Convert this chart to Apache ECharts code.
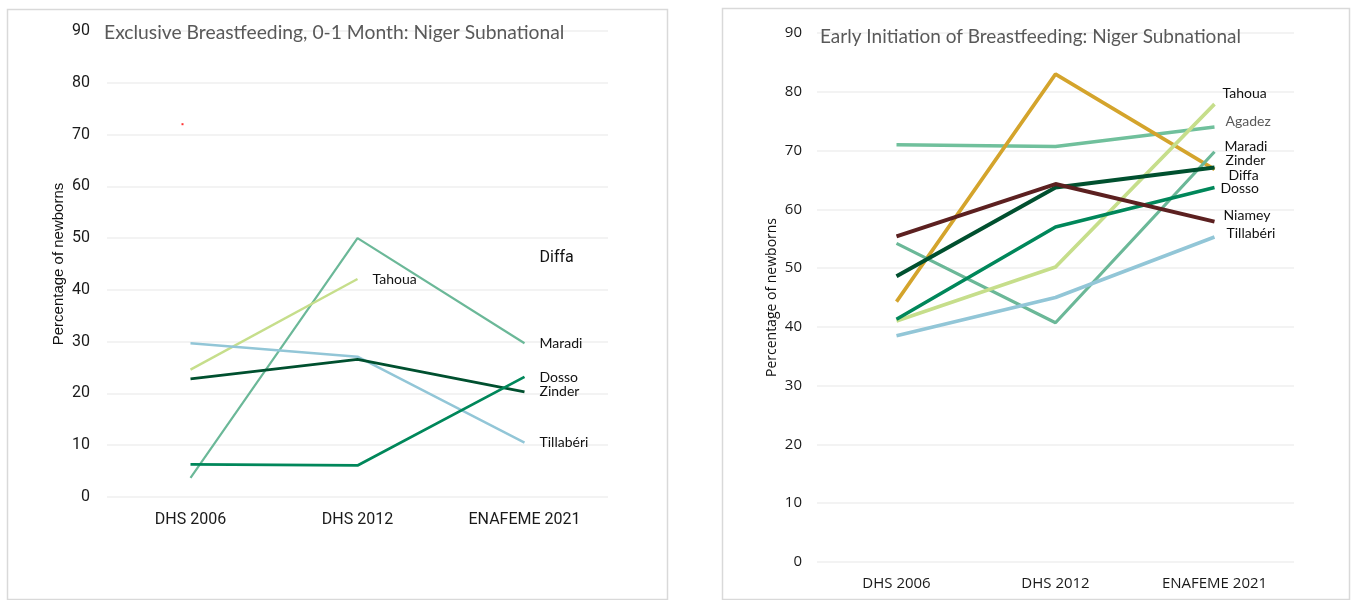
<!DOCTYPE html>
<html>
<head>
<meta charset="utf-8">
<script src="https://cdn.jsdelivr.net/npm/echarts@6/dist/echarts.min.js"></script>
<style>
  html, body { margin: 0; padding: 0; background: #ffffff; }
  #chart { width: 1352px; height: 600px; }
</style>
</head>
<body>
<div id="chart"></div>
<script>
// Survey rounds shared by both panels
const surveys = ['DHS 2006', 'DHS 2012', 'ENAFEME 2021'];

// Value axis range (percent)
const axisMin = 0;
const axisMax = 90;
const axisStep = 10;

// Exclusive breastfeeding, 0-1 month (% of newborns)
const ebfMaradi    = [3.7, 50.0, 29.7];
const ebfTahoua    = [24.6, 42.1, null];
const ebfTillaberi = [29.7, 27.1, 10.5];
const ebfZinder    = [22.8, 26.6, 20.3];
const ebfDosso     = [6.3, 6.1, 23.2];
const ebfDiffa     = [null, null, 46.2];
const ebfStrayDot  = [72, null, null];

// Early initiation of breastfeeding (% of newborns)
const eibAgadez    = [71.0, 70.7, 74.0];
const eibDiffa     = [44.3, 83.0, 66.8];
const eibMaradi    = [54.2, 40.7, 69.8];
const eibZinder    = [48.6, 63.7, 67.1];
const eibDosso     = [41.3, 57.0, 63.7];
const eibNiamey    = [55.4, 64.3, 57.9];
const eibTillaberi = [38.5, 45.0, 55.3];
const eibTahoua    = [41.0, 50.2, 77.9];

const COLORS = {
  maradi: '#6bb898',
  agadez: '#70c09c',
  tahoua: '#c6de8b',
  tillaberi: '#92c6d7',
  zinder: '#00502f',
  dosso: '#00875a',
  niamey: '#5c2020',
  diffa: '#d4a42c'
};

const NARROW = 'Roboto';

function regionLine(name, values, color, width, axisIdx, lbl) {
  return {
    name: name,
    type: 'line',
    xAxisIndex: axisIdx,
    yAxisIndex: axisIdx,
    data: values,
    symbol: 'none',
    connectNulls: false,
    silent: true,
    lineStyle: { color: color, width: width },
    itemStyle: { color: color },
    endLabel: {
      show: true,
      formatter: name,
      distance: 0,
      offset: lbl.offset,
      color: lbl.color || '#111111',
      fontFamily: lbl.fontFamily || 'Lato',
      fontSize: lbl.fontSize || 14
    }
  };
}

const leftLbl = (dx, dy, extra) => Object.assign({ offset: [dx, dy] }, extra || {});

const series = [
  // Left panel
  regionLine('Maradi', ebfMaradi, COLORS.maradi, 2.2, 0, leftLbl(15, 0)),
  regionLine('Tahoua', ebfTahoua, COLORS.tahoua, 2.4, 0, leftLbl(15, 0)),
  regionLine('Tillabéri', ebfTillaberi, COLORS.tillaberi, 2.4, 0, leftLbl(15, 0)),
  regionLine('Zinder', ebfZinder, COLORS.zinder, 2.8, 0, leftLbl(15, 0)),
  regionLine('Dosso', ebfDosso, COLORS.dosso, 2.8, 0, leftLbl(15, 1)),
  regionLine('Diffa', ebfDiffa, COLORS.diffa, 2.4, 0,
    leftLbl(15, 0, { fontFamily: NARROW, fontSize: 16, color: '#111111' })),
  {
    name: 'dot',
    type: 'scatter',
    xAxisIndex: 0,
    yAxisIndex: 0,
    data: ebfStrayDot,
    symbol: 'rect',
    symbolSize: 2,
    symbolOffset: [-8, 0],
    silent: true,
    itemStyle: { color: '#ff0000' }
  },
  // Right panel
  regionLine('Agadez', eibAgadez, COLORS.agadez, 3.6, 1, { offset: [11, -6], color: '#595959' }),
  regionLine('Diffa', eibDiffa, COLORS.diffa, 3.6, 1, { offset: [14, 6] }),
  regionLine('Maradi', eibMaradi, COLORS.maradi, 3.2, 1, { offset: [10, -5] }),
  regionLine('Tillabéri', eibTillaberi, COLORS.tillaberi, 3.6, 1, { offset: [12, -3] }),
  regionLine('Tahoua', eibTahoua, COLORS.tahoua, 3.6, 1, { offset: [8, -11] }),
  regionLine('Dosso', eibDosso, COLORS.dosso, 3.6, 1, { offset: [6, 1] }),
  regionLine('Zinder', eibZinder, COLORS.zinder, 4, 1, { offset: [11, -7] }),
  regionLine('Niamey', eibNiamey, COLORS.niamey, 4, 1, { offset: [9, -6] })
];

function valueAxis(idx, font, size, name, nameFont, nameSize, nameGap, margin) {
  return {
    type: 'value',
    gridIndex: idx,
    min: axisMin,
    max: axisMax,
    interval: axisStep,
    name: name,
    nameLocation: 'middle',
    nameGap: nameGap,
    nameTextStyle: { fontFamily: nameFont, fontSize: nameSize, color: '#111111' },
    axisLine: { show: false },
    axisTick: { show: false },
    axisLabel: { fontFamily: font, fontSize: size, color: '#1a1a1a', margin: margin },
    splitLine: { show: true, lineStyle: { color: '#efefef', width: 1.6 } }
  };
}

function categoryAxis(idx, font, size, margin) {
  return {
    type: 'category',
    gridIndex: idx,
    data: surveys,
    boundaryGap: true,
    axisLine: { show: false },
    axisTick: { show: false },
    axisLabel: { fontFamily: font, fontSize: size, color: '#1a1a1a', margin: margin }
  };
}

const chart = echarts.init(document.getElementById('chart'), null, { renderer: 'canvas' });
chart.setOption({
  animation: false,
  backgroundColor: '#ffffff',
  title: [
    {
      text: 'Exclusive Breastfeeding, 0-1 Month: Niger Subnational',
      left: 104, top: 23, padding: 0,
      textStyle: { fontFamily: 'Lato', fontWeight: 'normal', fontSize: 19.3, color: '#595959' }
    },
    {
      text: 'Early Initiation of Breastfeeding: Niger Subnational',
      left: 820, top: 27, padding: 0,
      textStyle: { fontFamily: 'Lato', fontWeight: 'normal', fontSize: 19, color: '#595959' }
    }
  ],
  graphic: [
    { type: 'rect', left: 5, top: 7, shape: { width: 660, height: 590 },
      style: { fill: 'none', stroke: '#d9d9d9', lineWidth: 1.5 }, silent: true, z: -1 },
    { type: 'rect', left: 720, top: 6, shape: { width: 627, height: 591 },
      style: { fill: 'none', stroke: '#d9d9d9', lineWidth: 1.5 }, silent: true, z: -1 }
  ],
  grid: [
    { left: 107, right: 744, top: 31, bottom: 103, containLabel: false },
    { left: 817, right: 58, top: 33, bottom: 38, containLabel: false }
  ],
  xAxis: [
    categoryAxis(0, NARROW, 16, 15),
    categoryAxis(1, 'Open Sans', 15, 14)
  ],
  yAxis: [
    valueAxis(0, NARROW, 16, 'Percentage of newborns', 'Liberation Sans', 15, 41, 17),
    valueAxis(1, 'Open Sans', 15, 'Percentage of newborns', 'Open Sans', 14, 38, 15)
  ],
  series: series
});
</script>
</body>
</html>
